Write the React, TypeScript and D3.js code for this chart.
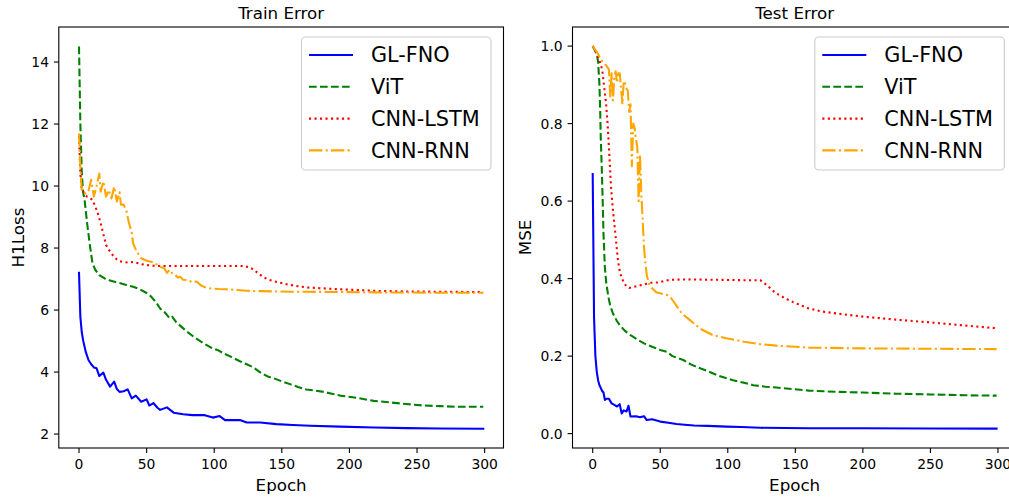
import React from "react";
import * as d3 from "d3";

// ---------- data (epoch, value) ----------
const trainGLFNO: [number, number][] = [[0,7.2],[1,5.78],[2,5.3],[3,5.03],[5,4.65],[7,4.39],[9,4.25],[11,4.15],[13,4.12],[15,3.87],[18,3.98],[20,3.75],[23,3.53],[26,3.69],[28,3.45],[30,3.36],[33,3.38],[36,3.44],[39,3.15],[42,3.24],[46,3.04],[50,3.12],[52,2.92],[55,3.0],[58,2.85],[60,2.78],[65,2.86],[70,2.69],[77,2.64],[84,2.61],[93,2.61],[99,2.53],[104,2.58],[108,2.45],[119,2.45],[124,2.37],[134,2.37],[146,2.32],[158,2.29],[171,2.27],[193,2.24],[218,2.21],[242,2.19],[267,2.18],[299,2.17]];
const trainViT: [number, number][] = [[0,14.5],[1,12.0],[2,10.5],[3,9.8],[4,9.6],[6,8.8],[8,8.1],[9,7.8],[10,7.5],[12,7.3],[15,7.13],[19,7.02],[23,6.95],[30,6.87],[35,6.81],[40,6.75],[45,6.67],[50,6.55],[53,6.45],[57,6.25],[60,6.05],[64,5.9],[67,5.73],[69,5.78],[72,5.6],[76,5.45],[80,5.3],[86,5.1],[92,4.93],[99,4.76],[103,4.7],[107,4.6],[113,4.48],[119,4.35],[124,4.25],[129,4.15],[135,3.96],[140,3.85],[144,3.8],[150,3.7],[156,3.61],[162,3.52],[168,3.44],[175,3.4],[181,3.36],[187,3.3],[193,3.24],[205,3.17],[218,3.07],[230,3.02],[242,2.97],[255,2.92],[267,2.9],[279,2.88],[299,2.88]];
const trainCNNLSTM: [number, number][] = [[0,11.6],[1,10.4],[2,9.9],[4,9.76],[6,9.65],[8,9.62],[10,9.55],[12,9.35],[14,9.1],[16,8.8],[18,8.45],[20,8.1],[22,7.95],[24,7.82],[26,7.72],[28,7.63],[30,7.58],[33,7.55],[36,7.53],[40,7.55],[43,7.52],[46,7.48],[50,7.45],[55,7.43],[60,7.42],[85,7.42],[110,7.42],[122,7.42],[126,7.38],[129,7.31],[132,7.2],[136,7.07],[140,6.98],[144,6.93],[150,6.87],[156,6.81],[162,6.77],[168,6.73],[180,6.7],[193,6.67],[218,6.62],[242,6.6],[267,6.59],[299,6.58]];
const trainCNNRNN: [number, number][] = [[0,11.7],[1,10.6],[2,9.85],[3,9.8],[5,9.76],[7,9.85],[9,10.2],[11,9.66],[13,10.0],[15,10.4],[16,9.82],[18,10.15],[20,9.66],[22,9.87],[24,9.6],[26,9.98],[28,9.5],[30,9.8],[31,9.4],[33,9.4],[35,9.2],[37,8.8],[39,8.5],[40,8.15],[42,7.95],[44,7.8],[46,7.67],[50,7.59],[54,7.55],[57,7.48],[60,7.4],[63,7.35],[65,7.2],[67,7.3],[69,7.18],[71,7.15],[73,7.05],[75,7.07],[77,6.98],[80,6.97],[84,6.9],[87,6.92],[90,6.8],[94,6.72],[97,6.7],[103,6.68],[109,6.67],[124,6.62],[134,6.61],[158,6.59],[168,6.59],[218,6.57],[260,6.56],[299,6.56]];

const testGLFNO: [number, number][] = [[0,0.67],[1,0.30],[2,0.2],[3,0.16],[4,0.138],[5,0.125],[7,0.11],[8,0.106],[9,0.087],[10,0.09],[12,0.09],[14,0.078],[16,0.074],[18,0.07],[20,0.076],[21.5,0.052],[23,0.06],[25,0.057],[26.5,0.072],[28,0.044],[32,0.045],[35,0.042],[38,0.045],[40,0.035],[44,0.037],[50,0.031],[56,0.028],[62,0.025],[68,0.023],[75,0.021],[85,0.02],[99,0.018],[110,0.017],[124,0.015],[160,0.014],[200,0.014],[250,0.013],[299,0.013]];
const testViT: [number, number][] = [[0,1.0],[3,0.98],[4,0.96],[5,0.9],[5.5,0.84],[6,0.76],[6.7,0.688],[7.4,0.6],[8,0.516],[9,0.43],[10,0.39],[11.6,0.353],[13,0.33],[15,0.31],[18,0.29],[20,0.28],[24,0.265],[28,0.254],[33,0.243],[38,0.233],[44,0.224],[50,0.216],[55,0.211],[59,0.2],[63,0.195],[67,0.19],[73,0.178],[80,0.168],[86,0.16],[92,0.151],[98,0.144],[104,0.138],[112,0.131],[119,0.125],[128,0.121],[136,0.119],[148,0.115],[160,0.111],[180,0.108],[200,0.106],[225,0.103],[250,0.101],[275,0.099],[299,0.098]];
const testCNNLSTM: [number, number][] = [[0,1.0],[3,0.98],[5,0.963],[7,0.94],[8,0.91],[9,0.88],[10,0.847],[11,0.8],[11.5,0.77],[12,0.74],[12.6,0.7],[13.5,0.64],[15,0.576],[16.5,0.525],[17.5,0.49],[18.7,0.447],[20,0.42],[21.2,0.405],[23,0.39],[25,0.38],[27,0.376],[30,0.378],[34,0.382],[38,0.385],[42,0.389],[48,0.39],[57,0.397],[70,0.398],[90,0.397],[110,0.396],[124,0.396],[129,0.383],[133,0.37],[136,0.362],[142,0.35],[148,0.34],[154,0.331],[160,0.323],[170,0.315],[185,0.308],[200,0.302],[225,0.294],[250,0.287],[275,0.279],[299,0.272]];
const testCNNRNN: [number, number][] = [[0,1.0],[2,0.99],[4,0.98],[6,0.965],[8,0.958],[10,0.95],[12,0.94],[13,0.87],[14,0.93],[15,0.86],[16,0.92],[17,0.935],[18,0.905],[19,0.93],[20,0.93],[21,0.89],[22,0.85],[23,0.91],[24,0.905],[25,0.89],[26,0.885],[27,0.83],[28,0.85],[29,0.69],[30,0.8],[31,0.79],[32,0.76],[33,0.74],[34,0.6],[35,0.72],[36,0.62],[37,0.55],[38,0.48],[39,0.44],[40,0.41],[41,0.395],[42,0.385],[44,0.375],[47,0.365],[50,0.362],[55,0.358],[58,0.35],[62,0.33],[66,0.31],[72,0.293],[80,0.27],[89,0.254],[99,0.246],[112,0.237],[124,0.231],[136,0.227],[160,0.222],[200,0.22],[250,0.219],[299,0.218]];

const seriesNames = ["GL-FNO", "ViT", "CNN-LSTM", "CNN-RNN"];
const seriesColors = ["#0000ff", "#008000", "#ff0000", "#ffa500"];
const seriesDash = ["", "7.7,3.3", "2.1,3.4", "13.3,3.3,2.1,3.3"];

const xTicks = [0, 50, 100, 150, 200, 250, 300];
const trainYTicks = [2, 4, 6, 8, 10, 12, 14];
const testYTicks = [0.0, 0.2, 0.4, 0.6, 0.8, 1.0];

const FONT = "DejaVu Sans, Liberation Sans, sans-serif";

type PanelProps = {
  left: number; right: number; top: number; bottom: number;
  yDomain: [number, number];
  yTicks: number[];
  yFmt: (v: number) => string;
  data: [number, number][][];
  title: string;
  ylabel: string;
  ylabelX: number;
};

function Panel(p: PanelProps) {
  const x = d3.scaleLinear().domain([-14.95, 313.95]).range([p.left, p.right]);
  const y = d3.scaleLinear().domain(p.yDomain).range([p.bottom, p.top]);
  const line = d3.line<[number, number]>().x(d => x(d[0])).y(d => y(d[1]));
  const lw = 2.08;
  const fw = 1.1;
  const tl = 4.9;
  const legX = p.right - 12.5 - 189.5;
  const legY = 37;
  return (
    <g>
      <text x={(p.left + p.right) / 2} y={19} textAnchor="middle" fontSize={16.7} fontFamily={FONT}>{p.title}</text>
      <defs>
        <clipPath id={"clip-" + p.title.replace(/\s/g, "")}>
          <rect x={p.left} y={p.top} width={p.right - p.left} height={p.bottom - p.top} />
        </clipPath>
      </defs>
      <g clipPath={`url(#clip-${p.title.replace(/\s/g, "")})`}>
        {p.data.map((s, i) => (
          <path key={i} d={line(s) || ""} fill="none" stroke={seriesColors[i]} strokeWidth={lw}
            strokeDasharray={seriesDash[i] || undefined} strokeLinejoin="round" strokeLinecap={i === 0 ? "square" : "butt"} />
        ))}
      </g>
      <rect x={p.left} y={p.top} width={p.right - p.left} height={p.bottom - p.top} fill="none" stroke="#000" strokeWidth={fw} />
      {xTicks.map(t => (
        <g key={t}>
          <line x1={x(t)} x2={x(t)} y1={p.bottom} y2={p.bottom + tl} stroke="#000" strokeWidth={fw} />
          <text x={x(t)} y={p.bottom + tl + 4.9 + 11} textAnchor="middle" fontSize={13.9} fontFamily={FONT}>{t}</text>
        </g>
      ))}
      {p.yTicks.map(t => (
        <g key={t}>
          <line x1={p.left - tl} x2={p.left} y1={y(t)} y2={y(t)} stroke="#000" strokeWidth={fw} />
          <text x={p.left - tl - 4.9} y={y(t)} dy="0.36em" textAnchor="end" fontSize={13.9} fontFamily={FONT}>{p.yFmt(t)}</text>
        </g>
      ))}
      <text x={(p.left + p.right) / 2} y={491} textAnchor="middle" fontSize={16.7} fontFamily={FONT}>Epoch</text>
      <text transform={`translate(${p.ylabelX},${(p.top + p.bottom) / 2}) rotate(-90)`} textAnchor="middle" dy="0.36em" fontSize={16.7} fontFamily={FONT}>{p.ylabel}</text>
      <rect x={legX} y={legY} width={189.5} height={133} rx={4} ry={4} fill="#fff" fillOpacity={0.8} stroke="#cccccc" strokeWidth={1.1} />
      {seriesNames.map((n, i) => {
        const yy = legY + 18 + i * 31.8;
        return (
          <g key={n}>
            <line x1={legX + 7.5} x2={legX + 51.5} y1={yy} y2={yy} stroke={seriesColors[i]} strokeWidth={lw}
              strokeDasharray={seriesDash[i] || undefined} />
            <text x={legX + 69.5} y={yy} dy="0.36em" fontSize={20.8} fontFamily={FONT}>{n}</text>
          </g>
        );
      })}
    </g>
  );
}

export default function App() {
  return (
    <svg width={1009} height={498} style={{ position: "absolute", left: 0, top: 0, background: "#fff" }}>
      <rect width={1009} height={498} fill="#fff" />
      <Panel left={58.8} right={503.5} top={27} bottom={448} yDomain={[1.55, 15.13]}
        yTicks={trainYTicks} yFmt={v => String(v)} data={[trainGLFNO, trainViT, trainCNNLSTM, trainCNNRNN]}
        title="Train Error" ylabel="H1Loss" ylabelX={18} />
      <Panel left={572.5} right={1016.8} top={27} bottom={448} yDomain={[-0.0371, 1.0493]}
        yTicks={testYTicks} yFmt={v => d3.format(".1f")(v)} data={[testGLFNO, testViT, testCNNLSTM, testCNNRNN]}
        title="Test Error" ylabel="MSE" ylabelX={525} />
    </svg>
  );
}
